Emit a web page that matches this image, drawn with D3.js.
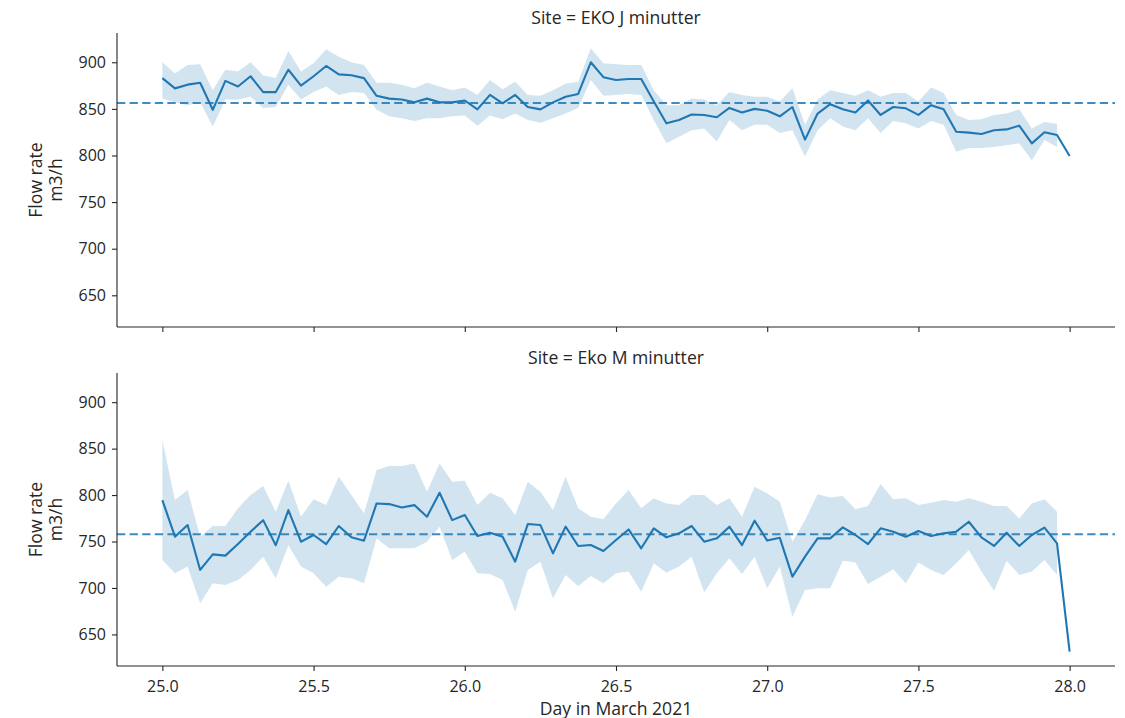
<!DOCTYPE html>
<html>
<head>
<meta charset="utf-8">
<script src="https://cdn.jsdelivr.net/npm/d3@7"></script>
<style>
  html, body { margin: 0; padding: 0; background: #fff; }
  svg { display: block; font-family: "Open Sans", sans-serif; }
</style>
</head>
<body>
<svg id="chart" width="1125" height="718"></svg>
<script>
// Hourly readings, 25 March 00:00 to 28 March 00:00 (73 samples)
const startDay = 25;
const hoursPerDay = 24;

// Site EKO J minutter: hourly mean and 95% CI band
const ekoJMean = [883, 872, 876, 878, 849, 880, 874, 885, 868, 868, 892, 875, 885, 896, 887, 886, 883, 864, 861, 860,
  857, 861, 857, 857, 859, 849.5, 865, 856, 865, 852, 849.5, 857, 863, 866, 900, 884, 881, 882, 882, 858,
  834.5, 838, 844, 843.5, 841, 851, 846, 850, 848, 842, 852, 817, 845, 855, 849.6, 846, 859, 843.5, 852, 850.6,
  843.5, 854, 849.6, 825.5, 824.5, 823, 827, 828, 832, 813, 825, 822, 799.5];
const ekoJHigh = [900, 888, 897, 898, 870, 892, 890, 900, 886, 883, 912, 890, 899, 914, 906, 900, 897, 878, 878, 876,
  872, 878, 874, 870, 873, 865, 881, 871, 879, 865, 864, 870, 877, 879, 915, 899, 898, 897, 897, 870,
  854, 854, 861, 860, 854, 868, 865, 863, 863, 858, 872, 833, 860, 870, 867, 864, 870, 863, 867, 867,
  858, 873, 867, 843.5, 838, 839, 843.5, 845, 849.6, 829, 836, 834, null];
const ekoJLow = [861, 857, 854, 857, 831, 860, 860, 863, 851, 852, 876, 860, 868, 874, 865, 868, 867, 849, 842, 840,
  837, 840, 840, 842, 843, 832, 843, 839, 845, 838, 835, 840, 845, 851, 881, 864, 865, 866, 865, 838,
  813, 820, 827, 829, 815, 838, 827, 833, 833, 824, 827, 799, 827, 840, 831, 827, 840, 824, 837, 834.5,
  829, 837, 833, 804, 808, 808, 809, 811, 813, 795, 816.6, 809, null];

// Site Eko M minutter: hourly mean and 95% CI band
const ekoMMean = [794.6, 755.2, 767.7, 719.4, 736.2, 734.8, 747.3, 760.6, 773, 746, 783.9, 749.8, 757, 747.3, 766.7, 754.5, 750.9, 791, 790.3, 786.7,
  789.2, 776.7, 802.5, 773, 778.5, 755.9, 759.5, 755.2, 728.3, 768.8, 767.7, 737.3, 766, 745.2, 746.2, 739.8, 751.6, 763, 742.7, 764.2,
  754.5, 758.8, 766.7, 749.8, 753.4, 766, 746.2, 772.4, 751, 754, 712.2, 733.7, 753.4, 753.4, 765.2, 757, 747.3, 764.2, 760.6, 755.2,
  761.3, 755.9, 758.8, 760.6, 771.3, 754.5, 745.2, 759.5, 745.2, 757, 764.9, 748, 631.5];
const ekoMHigh = [859, 794.6, 805.4, 755, 766.7, 766.7, 785.7, 800, 809.7, 782, 815.4, 776.7, 795.4, 789.2, 819.7, 800, 780.3, 826.9, 831.2, 831.2,
  834, 803.5, 834, 814.3, 815.4, 789.2, 802.5, 796.5, 778.5, 814.3, 803.5, 783.9, 819.7, 785.7, 776.7, 773.9, 791, 805.4, 785.7, 796.5,
  791, 789.2, 800, 800, 789.2, 796.5, 776.7, 809, 801.8, 792.8, 749.8, 773, 801, 797.5, 798.9, 784.6, 788.2, 811.8, 795.4, 796.5,
  789.2, 791.7, 794.6, 792.8, 796.5, 792.8, 788.2, 788.2, 774.9, 791, 795.4, 782, null];
const ekoMLow = [730, 715.8, 723, 683.5, 705, 703.2, 708.6, 719.4, 733.7, 710.4, 746, 723, 715.8, 701.4, 712.2, 710.4, 705, 753.4, 742.7, 742.7,
  742.7, 749.8, 766, 730, 739, 715.8, 715, 708.6, 674.5, 719.4, 728.3, 688.9, 714, 702.2, 712.9, 705, 715.8, 717.6, 696, 726.5,
  716.5, 723, 733.7, 695, 715.8, 731.9, 715, 733.7, 699.6, 723, 669.1, 697.8, 699.6, 699.6, 729.4, 727.3, 704.3, 712.2, 720.1, 705,
  727.3, 719.4, 714, 726.5, 740.9, 717.6, 697.1, 729.4, 714, 717.6, 730.1, 714, null];

// Overall mean flow per site (dashed reference lines)
const siteNames = ["EKO J minutter", "Eko M minutter"];
const siteMeans = [856.3, 757.8];

const yTicks = [650, 700, 750, 800, 850, 900];
const xTicks = [25.0, 25.5, 26.0, 26.5, 27.0, 27.5, 28.0];

const panels = [
  { name: siteNames[0], mean: ekoJMean, low: ekoJLow, high: ekoJHigh, avg: siteMeans[0] },
  { name: siteNames[1], mean: ekoMMean, low: ekoMLow, high: ekoMHigh, avg: siteMeans[1] }
];

const color = "#1f77b4";
const tickFont = 16;
const labelFont = 17.6;
const textColor = "#262626";
const fontFamily = "'Open Sans', sans-serif";

const svg = d3.select("#chart");
const left = 117, right = 1115;
const panelBoxes = [{ top: 33, bottom: 327 }, { top: 373, bottom: 666 }];

const x = d3.scaleLinear().domain([24.85, 28.15]).range([left, right]);

panels.forEach((p, k) => {
  const box = panelBoxes[k];
  const y = d3.scaleLinear().domain([616, 931.4]).range([box.bottom, box.top]);
  const g = svg.append("g");

  const rows = p.mean.map((v, i) => ({
    day: startDay + i / hoursPerDay,
    mean: v,
    low: p.low[i],
    high: p.high[i]
  }));

  // Confidence band
  const area = d3.area()
    .defined(d => d.low != null && d.high != null)
    .x(d => x(d.day))
    .y0(d => y(d.low))
    .y1(d => y(d.high));
  g.append("path")
    .datum(rows)
    .attr("d", area)
    .attr("fill", color)
    .attr("fill-opacity", 0.2)
    .attr("stroke", "none");

  // Hourly mean line
  const line = d3.line().x(d => x(d.day)).y(d => y(d.mean));
  g.append("path")
    .datum(rows)
    .attr("d", line)
    .attr("fill", "none")
    .attr("stroke", color)
    .attr("stroke-width", 2.1)
    .attr("stroke-linejoin", "round");

  // Overall mean, dashed
  g.append("line")
    .attr("x1", left).attr("x2", right)
    .attr("y1", y(p.avg)).attr("y2", y(p.avg))
    .attr("stroke", color)
    .attr("stroke-opacity", 0.85)
    .attr("stroke-width", 2.2)
    .attr("stroke-dasharray", "8.3 4.3");

  // Axes
  const yAxis = d3.axisLeft(y).tickValues(yTicks).tickFormat(d3.format("d")).tickSize(5).tickPadding(6);
  const ya = g.append("g").attr("transform", `translate(${left},0)`).call(yAxis);

  const xAxis = d3.axisBottom(x).tickValues(xTicks).tickSize(5)
    .tickFormat(k === panels.length - 1 ? d3.format(".1f") : () => "");
  const xa = g.append("g").attr("transform", `translate(0,${box.bottom})`).call(xAxis);
  xa.selectAll(".tick text").attr("dy", null).attr("y", 25.5);

  [ya, xa].forEach(a => {
    a.select(".domain").attr("stroke", "#262626").attr("stroke-width", 1.1);
    a.selectAll(".tick line").attr("stroke", "#262626").attr("stroke-width", 1.1);
    a.selectAll(".tick text").attr("fill", textColor).style("font-size", tickFont + "px")
      .style("font-family", fontFamily);
  });
  // left-and-bottom spines only
  ya.select(".domain").attr("d", `M0,${box.bottom}V${box.top}`);
  xa.select(".domain").attr("d", `M${left},0H${right}`);

  // Panel title
  g.append("text")
    .attr("x", (left + right) / 2)
    .attr("y", box.top - 8.7)
    .attr("text-anchor", "middle")
    .attr("fill", textColor)
    .style("font-size", labelFont + "px")
    .text(`Site = ${p.name}`);

  // Y axis label (two lines)
  const cy = (box.top + box.bottom) / 2;
  const yl = g.append("text")
    .attr("transform", `translate(0,${cy}) rotate(-90)`)
    .attr("text-anchor", "middle")
    .attr("fill", textColor)
    .style("font-size", labelFont + "px");
  yl.append("tspan").attr("x", 0).attr("y", 42).text("Flow rate");
  yl.append("tspan").attr("x", 0).attr("y", 62).text("m3/h");
});

// Shared x axis label
svg.append("text")
  .attr("x", (left + right) / 2)
  .attr("y", 714.5)
  .attr("text-anchor", "middle")
  .attr("fill", textColor)
  .style("font-size", labelFont + "px")
  .text("Day in March 2021");
</script>
</body>
</html>
